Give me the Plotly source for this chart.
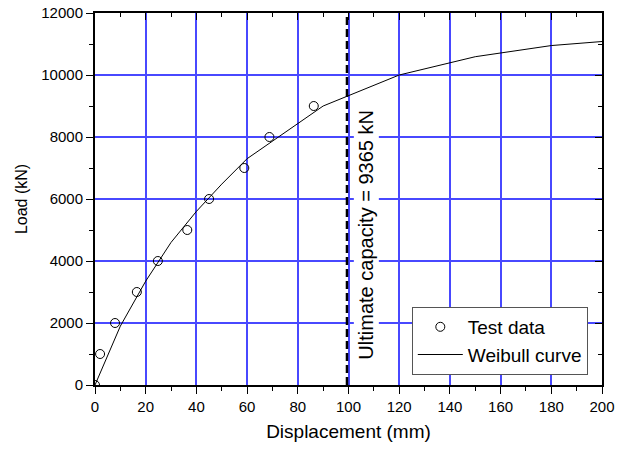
import plotly.graph_objects as go

# Test data (displacement mm, load kN)
test_disp = [0, 2.0, 7.9, 16.5, 24.8, 36.4, 45.0, 58.9, 68.8, 86.3]
test_load = [0, 1000, 2000, 3000, 4000, 5000, 6000, 7000, 8000, 9000]

# Weibull curve samples
curve_disp = [0, 10, 20, 30, 40, 50, 60, 90, 120, 150, 180, 200]
curve_load = [0, 1900, 3350, 4600, 5600, 6480, 7300, 9000, 10000, 10590, 10950, 11080]

ultimate_disp = 99.4
ultimate_label = "Ultimate capacity = 9365 kN"

x_ticks = [0, 20, 40, 60, 80, 100, 120, 140, 160, 180, 200]
y_ticks = [0, 2000, 4000, 6000, 8000, 10000, 12000]
y_tick_text = ["0", "2000", "4000", "6000", "8000", "10000", "12000"]

FONT = "Liberation Sans, Arial, sans-serif"

fig = go.Figure()

fig.add_trace(go.Scatter(
    x=test_disp, y=test_load, mode="markers", name="Test data",
    marker=dict(symbol="circle-open", size=9, color="black", line=dict(width=1, color="black")),
))
fig.add_trace(go.Scatter(
    x=curve_disp, y=curve_load, mode="lines", name="Weibull curve",
    line=dict(color="black", width=1),
))
fig.add_trace(go.Scatter(
    x=[ultimate_disp, ultimate_disp], y=[0, 12000], mode="lines",
    line=dict(color="black", width=2.5, dash="8px,4px"), showlegend=False, hoverinfo="skip",
))
# dummy trace to show mirrored inside-tick axes
fig.add_trace(go.Scatter(x=[None], y=[None], xaxis="x2", yaxis="y2", showlegend=False, hoverinfo="skip"))

fig.add_annotation(
    x=106.9, y=4850, text=ultimate_label, textangle=-90, showarrow=False,
    font=dict(family=FONT, size=20, color="black"), bgcolor="white",
    xanchor="center", yanchor="middle", borderpad=1,
)

axis_common = dict(
    showline=True, linecolor="black", linewidth=2, mirror=True,
    gridcolor="#4848ff", gridwidth=1.5, zeroline=False,
    ticks="outside", ticklen=7, tickwidth=1, tickcolor="black",
    tickfont=dict(family=FONT, size=15, color="black"),
    ticklabeloverflow="allow",
)

fig.update_layout(
    width=629, height=450,
    margin=dict(l=95, r=27, t=13, b=65, autoexpand=False),
    paper_bgcolor="white", plot_bgcolor="white",
    font=dict(family=FONT, size=15, color="black"),
    xaxis=dict(
        range=[0, 200], tickvals=x_ticks, **axis_common,
        minor=dict(dtick=10, tick0=0, ticks="outside", ticklen=4, tickcolor="black", showgrid=False),
        title=dict(text="Displacement (mm)", font=dict(family=FONT, size=19), standoff=11),
    ),
    yaxis=dict(
        range=[0, 12000], tickvals=y_ticks, ticktext=y_tick_text, **axis_common,
        minor=dict(dtick=1000, tick0=0, ticks="outside", ticklen=4, tickcolor="black", showgrid=False),
        title=dict(text="Load (kN)", font=dict(family=FONT, size=16), standoff=10),
    ),
    xaxis2=dict(
        range=[0, 200], overlaying="x", side="top", anchor="y", showgrid=False, zeroline=False,
        showticklabels=False, ticks="inside", ticklen=7, tickcolor="black", tickvals=x_ticks,
        minor=dict(dtick=10, tick0=0, ticks="inside", ticklen=4, tickcolor="black", showgrid=False),
    ),
    yaxis2=dict(
        range=[0, 12000], overlaying="y", side="right", anchor="x", showgrid=False, zeroline=False,
        showticklabels=False, ticks="inside", ticklen=7, tickcolor="black", tickvals=y_ticks,
        minor=dict(dtick=1000, tick0=0, ticks="inside", ticklen=4, tickcolor="black", showgrid=False),
    ),
    legend=dict(
        x=0.972, y=0.027, xanchor="right", yanchor="bottom",
        bgcolor="white", bordercolor="#555555", borderwidth=1,
        font=dict(family=FONT, size=19, color="black"),
        tracegroupgap=0, itemwidth=45,
    ),
    showlegend=True,
)

fig.write_html("out.html", config={"displayModeBar": False},
               post_script="document.body.style.margin='0px';")
